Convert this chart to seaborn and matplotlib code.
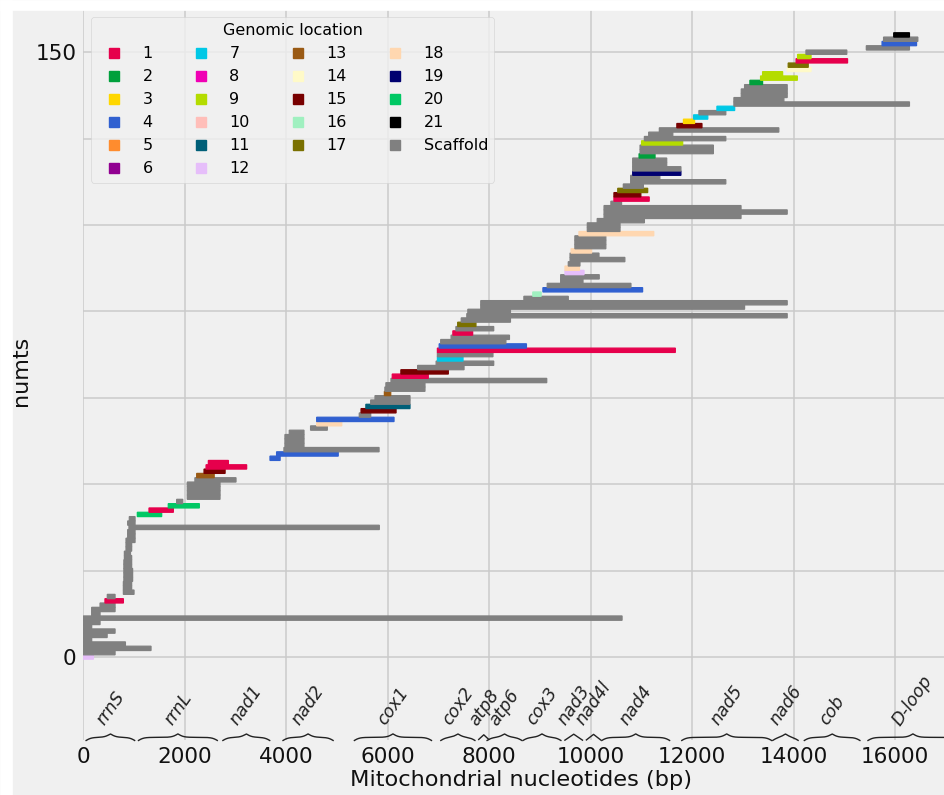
import numpy as np
import matplotlib
matplotlib.use("Agg")
import matplotlib.pyplot as plt
import seaborn as sns
from matplotlib.lines import Line2D
from matplotlib.patches import Rectangle

# ---------------- data ----------------
chrom_labels = ['1', '2', '3', '4', '5', '6', '7', '8', '9', '10', '11',
                '12', '13', '14', '15', '16', '17', '18', '19', '20', '21',
                'Scaffold']
chrom_colors = ['#e6004c', '#00a03c', '#ffd700', '#3060d0', '#ff8c2e',
                '#910091', '#00c8e6', '#f000b4', '#b4dc00', '#ffbeb9',
                '#005f78', '#e6befa', '#9a5a14', '#fffac8', '#780000',
                '#a0f0c0', '#7a7000', '#ffd7b0', '#000070', '#00c864',
                '#000000', '#808080']

# one entry per numt, bottom to top
numt_chrom = ['12', 'Scaffold', 'Scaffold', 'Scaffold', 'Scaffold', 'Scaffold',
              'Scaffold', 'Scaffold', 'Scaffold', 'Scaffold', 'Scaffold',
              'Scaffold', 'Scaffold', '1', 'Scaffold', 'Scaffold', 'Scaffold',
              'Scaffold', 'Scaffold', 'Scaffold', 'Scaffold', 'Scaffold',
              'Scaffold', 'Scaffold', 'Scaffold', 'Scaffold', 'Scaffold',
              'Scaffold', 'Scaffold', 'Scaffold', 'Scaffold', 'Scaffold',
              'Scaffold', '20', '1', '20', 'Scaffold', 'Scaffold', 'Scaffold',
              'Scaffold', 'Scaffold', 'Scaffold', '13', '15', '1', '1', '4',
              '4', 'Scaffold', 'Scaffold', 'Scaffold', 'Scaffold', 'Scaffold',
              'Scaffold', '18', '4', 'Scaffold', '15', '11', 'Scaffold',
              'Scaffold', '13', 'Scaffold', 'Scaffold', 'Scaffold', '1', '15',
              'Scaffold', 'Scaffold', '7', 'Scaffold', '1', '4', 'Scaffold',
              'Scaffold', '1', 'Scaffold', '17', 'Scaffold', 'Scaffold',
              'Scaffold', 'Scaffold', 'Scaffold', 'Scaffold', '16', '4',
              'Scaffold', 'Scaffold', 'Scaffold', '12', '18', 'Scaffold',
              'Scaffold', 'Scaffold', '18', 'Scaffold', 'Scaffold', 'Scaffold',
              '18', 'Scaffold', 'Scaffold', 'Scaffold', 'Scaffold', 'Scaffold',
              'Scaffold', 'Scaffold', '1', '15', '17', 'Scaffold', 'Scaffold',
              'Scaffold', '19', 'Scaffold', 'Scaffold', 'Scaffold', '2',
              'Scaffold', 'Scaffold', '9', 'Scaffold', 'Scaffold', 'Scaffold',
              '15', '3', '7', 'Scaffold', '7', 'Scaffold', 'Scaffold',
              'Scaffold', 'Scaffold', 'Scaffold', '2', '9', '9', '14', '17',
              '1', '9', 'Scaffold', 'Scaffold', '4', 'Scaffold', '21']
numt_start = [0, 0, 0, 0, 0, 0, 0, 0, 0, 0, 165, 165, 330, 427, 473,
              790, 790, 790, 800, 800, 800, 800, 800, 810, 810, 842, 842, 842,
              875, 875, 900, 875, 907, 1065, 1295, 1675, 1840, 2050, 2050,
              2050, 2050, 2200, 2235, 2380, 2420, 2465, 3680, 3810, 3955, 3975,
              3975, 3975, 4060, 4480, 4600, 4600, 5440, 5475, 5570, 5665, 5750,
              5935, 5945, 5965, 6065, 6090, 6260, 6590, 6955, 6980, 6980, 6980,
              7015, 7045, 7250, 7285, 7345, 7380, 7450, 7560, 7580, 7835, 7835,
              8685, 8860, 9060, 9145, 9410, 9410, 9495, 9495, 9560, 9595, 9595,
              9615, 9690, 9690, 9690, 9770, 9935, 9935, 10130, 10265, 10265,
              10265, 10400, 10460, 10460, 10535, 10645, 10790, 10790, 10830,
              10830, 10830, 10830, 10955, 10975, 10975, 11005, 11060, 11145,
              11355, 11700, 11830, 12030, 12135, 12490, 12825, 12825, 12970,
              12970, 13035, 13140, 13350, 13390, 13875, 13895, 14050, 14080,
              14245, 15435, 15745, 15775, 15975]
numt_end = [200, 626, 1335, 830, 165, 470, 626, 165, 330, 10620, 330, 626,
            626, 790, 626, 1000, 953, 953, 972, 972, 972, 953, 953, 953, 930,
            953, 953, 1020, 1020, 1020, 5835, 1020, 1020, 1545, 1775, 2287,
            1960, 2695, 2695, 2695, 2695, 3010, 2580, 2795, 3220, 2860, 3880,
            5025, 5830, 4350, 4350, 4350, 4350, 4810, 5095, 6125, 5665, 6165,
            6440, 6440, 6440, 6060, 6735, 6735, 9135, 6800, 7195, 7505, 8090,
            7485, 8075, 11670, 8735, 8330, 8400, 7675, 8090, 7740, 8420, 13875,
            8420, 13035, 13875, 9560, 9025, 11025, 10795, 9850, 10170, 9870,
            9780, 9790, 10675, 10165, 10020, 10300, 10300, 10300, 11245, 10580,
            10580, 11060, 12965, 13875, 12965, 10610, 11155, 10990, 11125,
            11040, 12665, 11365, 11780, 11780, 11500, 11500, 11270, 12420,
            12420, 11815, 12665, 11620, 13710, 12195, 12050, 12310, 12665,
            12840, 16285, 13810, 13875, 13875, 13875, 13390, 14075, 13785,
            14345, 14290, 15065, 14345, 15050, 16285, 16425, 16450, 16285]

gene_names = ['rrnS', 'rrnL', 'nad1', 'nad2', 'cox1', 'cox2', 'atp8', 'atp6',
              'cox3', 'nad3', 'nad4l', 'nad4', 'nad5', 'nad6', 'cob', 'D-loop']
gene_start = [44, 1076, 2740, 3925, 5332, 7036, 7784, 7948, 8656, 9482, 9906,
              10209, 11785, 13579, 14201, 15456]
gene_end = [1024, 2653, 3686, 4936, 6875, 7731, 8003, 8656, 9426, 9851, 10209,
            11569, 13579, 14102, 15320, 17250]

x_ticks = [0, 2000, 4000, 6000, 8000, 10000, 12000, 14000, 16000]
y_ticks = [0, 20, 40, 60, 80, 100, 120, 140]
y_tick_labels = ['0', '', '', '', '', '', '', '150']

# ---------------- style ----------------
plt.style.use('fivethirtyeight')
plt.rcParams['font.family'] = ['DejaVu Sans']
palette = dict(zip(chrom_labels, sns.color_palette(chrom_colors)))

W, H = 945, 795
fig = plt.figure(figsize=(W / 100, H / 100), dpi=100)
fig.patch.set_facecolor('#f0f0f0')

YMIN, YMAX = -19.3, 150
XMAX = 17000
px_per_row = 4.32
ax_left = 83.3
ax_w = XMAX / 19.712
ax_top = 657 - YMAX * px_per_row
ax_h = (YMAX - YMIN) * px_per_row
ax = fig.add_axes([ax_left / W, 1 - (ax_top + ax_h) / H, ax_w / W, ax_h / H])
ax.set_facecolor('#f0f0f0')

rows = np.arange(len(numt_start))
starts = np.array(numt_start)
widths = np.array(numt_end) - starts
bar_colors = [palette[c] for c in numt_chrom]
bars = ax.barh(rows, widths, left=starts, height=1.0, color=bar_colors,
               edgecolor=bar_colors, linewidth=0.9, zorder=3)
for b in bars:
    b.set_snap(False)

ax.set_xlim(0, XMAX)
ax.set_ylim(YMIN, YMAX)
ax.set_xticks(x_ticks)
ax.set_yticks(y_ticks)
ax.set_yticklabels(y_tick_labels)
ax.grid(True, color='#cbcbcb', linewidth=1.1, zorder=0)
ax.set_axisbelow(True)
ax.tick_params(labelsize=15.5, length=0, pad=5, colors='#111111')
ax.set_xlabel('Mitochondrial nucleotides (bp)', fontsize=16.2, labelpad=2,
              color='#111111', x=0.5075)
ax.set_ylabel('numts', fontsize=16, labelpad=3, color='#111111', y=0.505)
sns.despine(ax=ax, left=True, bottom=True)

# ---------------- gene braces ----------------
beta = 300.0 / XMAX
y_base, k = -19.4, 1.6
for name, g0, g1 in zip(gene_names, gene_start, gene_end):
    n = 301
    xs = np.linspace(g0, g1, n)
    xh = xs[:n // 2 + 1]
    yh = (1 / (1 + np.exp(-beta * (xh - xh[0]))) +
          1 / (1 + np.exp(-beta * (xh - xh[-1]))))
    yb = np.concatenate((yh, yh[-2::-1]))
    ax.plot(xs, y_base + k * (yb - 0.5), color='#222222', lw=1.0,
            zorder=4, clip_on=False)
    ax.text((g0 + g1) / 2, -16.6, name, rotation=55, ha='center',
            va='bottom', fontsize=12.5, style='italic', color='#222222')

# ---------------- legend ----------------
handles = [Line2D([], [], marker='s', linestyle='', markersize=7,
                  color=palette[c]) for c in chrom_labels]
leg = ax.legend(handles, chrom_labels, title='Genomic location', ncol=4,
                loc='upper left', fontsize=11.5, title_fontsize=11.5,
                frameon=True)
leg.get_frame().set_facecolor('#f0f0f0')
leg.get_frame().set_edgecolor('#d0d0d0')

# white margins of the original picture
fig.patches.append(Rectangle((0, 1 - 10 / H), 1, 10 / H,
                             transform=fig.transFigure, color='white',
                             zorder=10))
fig.patches.append(Rectangle((0, 0), 12 / W, 1, transform=fig.transFigure,
                             color='white', zorder=10))

fig.savefig('out.png', dpi=100, facecolor=fig.get_facecolor())
